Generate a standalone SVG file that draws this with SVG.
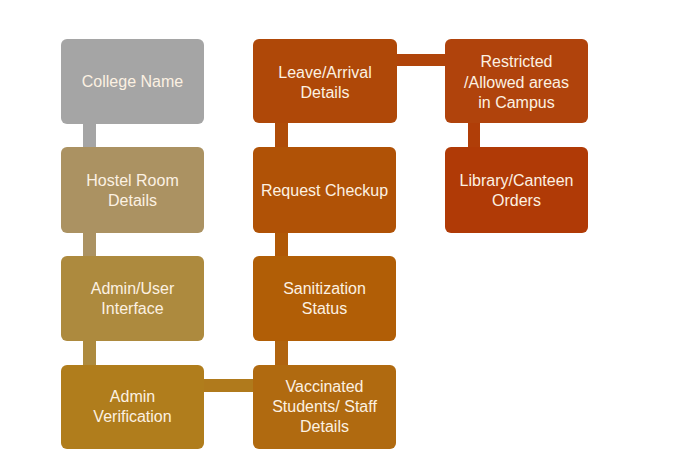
<svg xmlns="http://www.w3.org/2000/svg" width="683" height="464" viewBox="0 0 683 464">
<style>
.box{stroke:none}
.t{font-family:"Liberation Sans",Arial,sans-serif;font-size:16px;fill:#FCF1E2;text-anchor:middle}
</style>
<rect width="683" height="464" fill="#ffffff"/>
<g id="connectors">
<rect x="83" y="124" width="13" height="23" fill="#A5A5A5"/>
<rect x="83" y="233" width="13" height="23" fill="#AB9262"/>
<rect x="83" y="341" width="13" height="24" fill="#AD8A3E"/>
<rect x="204" y="379" width="49" height="13" fill="#B07A1C"/>
<rect x="275" y="341" width="13" height="24" fill="#B06410"/>
<rect x="275" y="233" width="13" height="23" fill="#B05806"/>
<rect x="275" y="123" width="13" height="24" fill="#AF4C08"/>
<rect x="397" y="54" width="48" height="12" fill="#B0440A"/>
<rect x="468" y="123" width="12" height="24" fill="#B03E08"/>
</g>
<g id="college">
<rect class="box" x="61" y="39" width="143" height="85" rx="6" fill="#A5A5A5"/>
<text class="t" x="132.5" y="87">College Name</text>
</g>
<g id="hostel">
<rect class="box" x="61" y="147" width="143" height="86" rx="6" fill="#AB9262"/>
<text class="t" x="132.5" y="186">Hostel Room</text>
<text class="t" x="132.5" y="206">Details</text>
</g>
<g id="adminuser">
<rect class="box" x="61" y="256" width="143" height="85" rx="6" fill="#AD8A3E"/>
<text class="t" x="132.5" y="294">Admin/User</text>
<text class="t" x="132.5" y="314">Interface</text>
</g>
<g id="adminverif">
<rect class="box" x="61" y="365" width="143" height="84" rx="6" fill="#B07D1C"/>
<text class="t" x="132.5" y="402">Admin</text>
<text class="t" x="132.5" y="422">Verification</text>
</g>
<g id="vaccinated">
<rect class="box" x="253" y="365" width="143" height="84" rx="6" fill="#B06A10"/>
<text class="t" x="324.5" y="392">Vaccinated</text>
<text class="t" x="324.5" y="412">Students/ Staff</text>
<text class="t" x="324.5" y="432">Details</text>
</g>
<g id="sanitization">
<rect class="box" x="253" y="256" width="143" height="85" rx="6" fill="#B15E06"/>
<text class="t" x="324.5" y="294">Sanitization</text>
<text class="t" x="324.5" y="314">Status</text>
</g>
<g id="request">
<rect class="box" x="253" y="147" width="143" height="86" rx="6" fill="#B05206"/>
<text class="t" x="324.5" y="196">Request Checkup</text>
</g>
<g id="leave">
<rect class="box" x="253" y="39" width="144" height="84" rx="6" fill="#AF4808"/>
<text class="t" x="325" y="78">Leave/Arrival</text>
<text class="t" x="325" y="98">Details</text>
</g>
<g id="restricted">
<rect class="box" x="445" y="39" width="143" height="84" rx="6" fill="#B0430C"/>
<text class="t" x="516.5" y="67">Restricted</text>
<text class="t" x="516.5" y="88">/Allowed areas</text>
<text class="t" x="516.5" y="108">in Campus</text>
</g>
<g id="library">
<rect class="box" x="445" y="147" width="143" height="86" rx="6" fill="#B03A06"/>
<text class="t" x="516.5" y="186">Library/Canteen</text>
<text class="t" x="516.5" y="206">Orders</text>
</g>
</svg>
